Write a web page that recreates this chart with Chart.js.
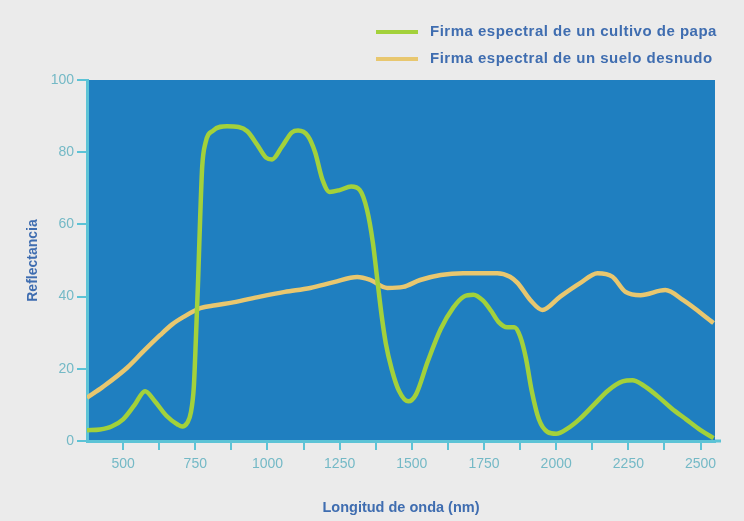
<!DOCTYPE html>
<html>
<head>
<meta charset="utf-8">
<script src="https://cdn.jsdelivr.net/npm/chart.js@4"></script>
<style>
  html, body { margin: 0; padding: 0; background: #ebebeb; overflow: hidden; }
  canvas { display: block; }
</style>
</head>
<body>
<canvas id="js--chart" width="744" height="521"></canvas>
<script>
// wavelength (nm) and reflectance (%)
const potatoWl = [375, 420, 460, 500, 540, 576, 610, 650, 690, 705, 722, 735, 745, 752, 760, 767, 774, 785, 812, 860, 900, 930, 965, 995, 1016, 1050, 1085, 1106, 1140, 1165, 1190, 1215, 1250, 1290, 1320, 1345, 1365, 1380, 1395, 1410, 1430, 1455, 1488, 1515, 1555, 1600, 1644, 1680, 1713, 1745, 1775, 1800, 1830, 1855, 1875, 1895, 1915, 1940, 1970, 2000, 2040, 2080, 2130, 2180, 2230, 2264, 2300, 2350, 2400, 2450, 2500, 2545];
const potatoRefl = [3, 3.2, 4, 6, 10, 13.8, 11, 7, 4.5, 4, 5, 8, 15, 28, 45, 62, 76, 82.5, 86, 87.2, 87, 85.8, 82, 78.5, 78, 81.5, 85.5, 86, 84.5, 80, 72.5, 69, 69.5, 70.5, 69.5, 64, 55, 45, 35, 27, 20, 14, 11, 13, 22, 31, 37, 40, 40.5, 39, 36, 33, 31.5, 31.5, 29, 23, 14, 6, 2.5, 2, 3.5, 6, 10, 14, 16.5, 16.8, 15.5, 12.5, 9, 6, 3, 0.8];

const soilWl = [375, 430, 514, 570, 628, 670, 708, 767, 820, 881, 975, 1060, 1148, 1230, 1311, 1356, 1415, 1470, 1529, 1600, 1678, 1796, 1840, 1866, 1911, 1952, 2014, 2084, 2143, 2195, 2240, 2292, 2378, 2440, 2545];
const soilRefl = [12, 15, 20.3, 24.8, 29.3, 32.3, 34.3, 36.8, 37.6, 38.4, 40, 41.3, 42.4, 44, 45.4, 44.6, 42.4, 42.7, 44.6, 46, 46.5, 46.5, 45.5, 43.8, 39, 36.3, 40, 43.8, 46.5, 45.5, 41.3, 40.4, 41.8, 39, 32.7];

const seriesNames = ["Firma espectral de un cultivo de papa", "Firma espectral de un suelo desnudo"];
const xTickValues = [500, 625, 750, 875, 1000, 1125, 1250, 1375, 1500, 1625, 1750, 1875, 2000, 2125, 2250, 2375, 2500];
const xLabelValues = [500, 750, 1000, 1250, 1500, 1750, 2000, 2250, 2500];

const toPoints = (xs, ys) => xs.map((x, i) => ({ x: x, y: ys[i] }));

const axisCyan = '#5cc3d6';
const tickText = '#74b9c6';
const titleBlue = '#3f6db0';
const fontFam = "'Liberation Sans', Arial, sans-serif";

const plotBg = {
    id: 'plotBg',
    beforeDraw(chart) {
        const { ctx, chartArea: a } = chart;
        ctx.save();
        ctx.fillStyle = '#1f7fc0';
        ctx.fillRect(a.left, a.top, a.right - a.left, a.bottom - a.top);
        // the x axis line runs a little past the plot on the right
        ctx.fillStyle = axisCyan;
        ctx.fillRect(a.right, a.bottom - 1.5, 6, 3);
        ctx.restore();
    }
};

const stackedLegend = {
    id: 'stackedLegend',
    afterDraw(chart) {
        const ctx = chart.ctx;
        ctx.save();
        ctx.font = "bold 15px " + fontFam;
        ctx.letterSpacing = '0.5px';
        ctx.textBaseline = 'middle';
        chart.data.datasets.forEach(function (ds, i) {
            const y = 32 + i * 27;
            ctx.strokeStyle = ds.borderColor;
            ctx.lineWidth = 4;
            ctx.beginPath();
            ctx.moveTo(376, y);
            ctx.lineTo(418, y);
            ctx.stroke();
            ctx.fillStyle = titleBlue;
            ctx.fillText(ds.label, 430, y);
        });
        ctx.restore();
    }
};

new Chart(document.getElementById("js--chart"), {
    type: 'line',
    data: {
        datasets: [{
            label: seriesNames[0],
            data: toPoints(potatoWl, potatoRefl),
            borderColor: '#a3d13b',
            borderWidth: 4.5,
            pointRadius: 0,
            cubicInterpolationMode: 'monotone'
        }, {
            label: seriesNames[1],
            data: toPoints(soilWl, soilRefl),
            borderColor: '#e8c76f',
            borderWidth: 4.5,
            pointRadius: 0,
            cubicInterpolationMode: 'monotone'
        }]
    },
    options: {
        responsive: false,
        animation: false,
        devicePixelRatio: 1,
        layout: { padding: { left: 0, right: 29, top: 80, bottom: 0 } },
        plugins: {
            legend: { display: false },
            tooltip: { enabled: false }
        },
        scales: {
            x: {
                type: 'linear',
                min: 375,
                max: 2550,
                afterFit(scale) { scale.height = 80; },
                afterBuildTicks(scale) {
                    scale.ticks = xTickValues.map(v => ({ value: v }));
                },
                border: { color: axisCyan, width: 3 },
                grid: { drawOnChartArea: false, color: axisCyan, lineWidth: 2, tickLength: 9 },
                ticks: {
                    color: tickText,
                    font: { family: fontFam, size: 14 },
                    padding: 6,
                    maxRotation: 0,
                    autoSkip: false,
                    callback: v => xLabelValues.includes(v) ? String(v) : ''
                },
                title: {
                    display: true,
                    text: 'Longitud de onda (nm)',
                    color: titleBlue,
                    font: { family: fontFam, size: 14.5, weight: 'bold' },
                    padding: { top: 10 }
                }
            },
            y: {
                min: 0,
                max: 100,
                afterFit(scale) { scale.width = 87; },
                border: { color: axisCyan, width: 3 },
                grid: { drawOnChartArea: false, color: axisCyan, lineWidth: 2, tickLength: 10 },
                ticks: {
                    stepSize: 20,
                    color: tickText,
                    font: { family: fontFam, size: 14 },
                    padding: 3
                },
                title: {
                    display: true,
                    text: 'Reflectancia',
                    color: titleBlue,
                    font: { family: fontFam, size: 14, weight: 'bold' },
                    padding: { top: 25 }
                }
            }
        }
    },
    plugins: [plotBg, stackedLegend]
});
</script>
</body>
</html>
